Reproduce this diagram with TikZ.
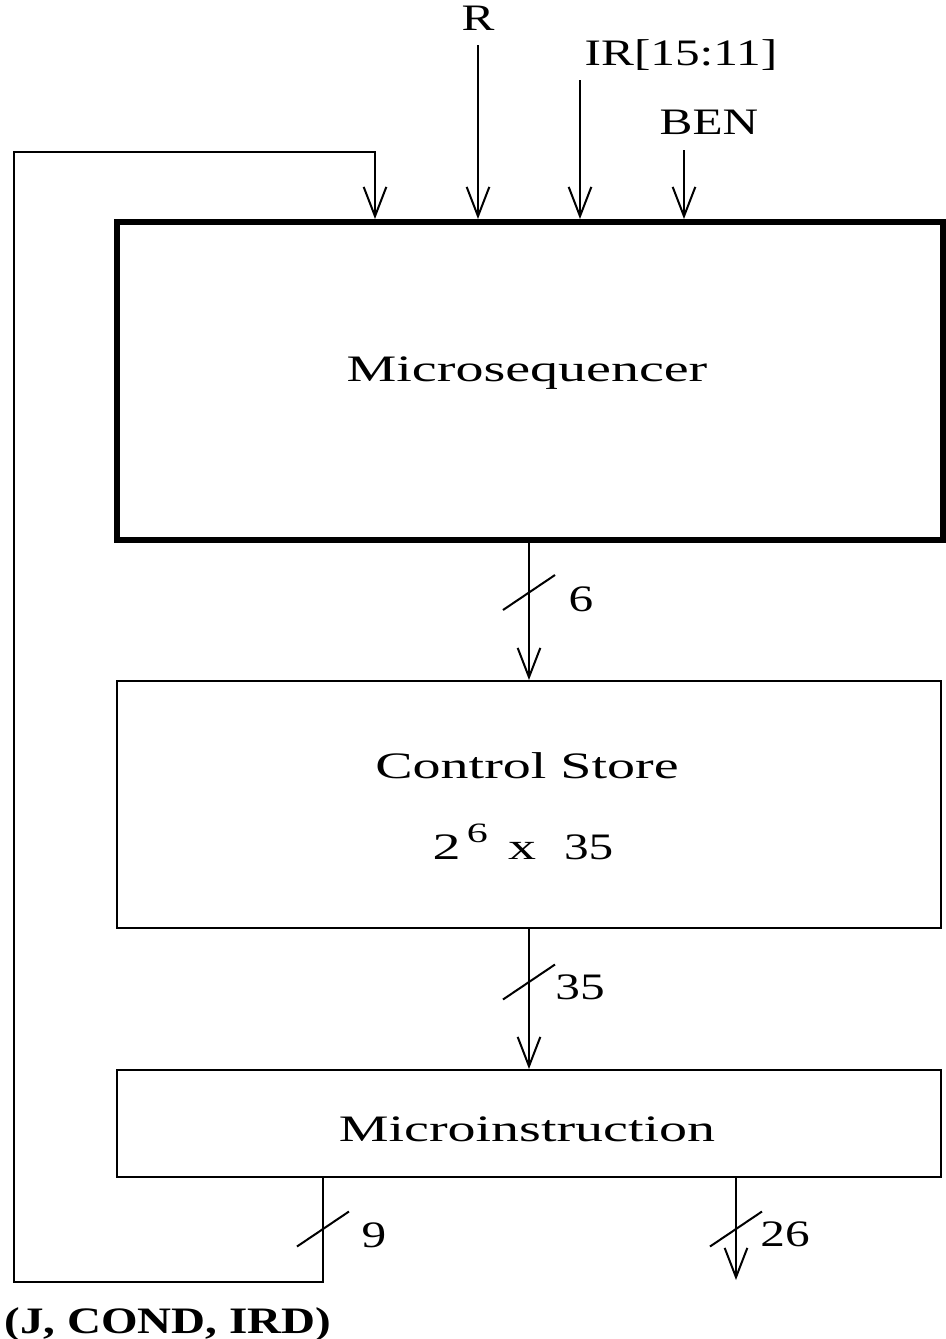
\documentclass[tikz,border=0pt]{standalone}
\usepackage{fontspec}
\setmainfont{Liberation Serif}[FakeStretch=1.5]
\newfontfamily\capfont{Liberation Serif}[FakeStretch=1.32]
\newfontfamily\fbfont{Liberation Serif}[FakeStretch=1.26]
\usetikzlibrary{arrows.meta}
\newcommand\busmark[1]{\draw ([shift={(-26,17.5)}]#1) -- ([shift={(26,-17.5)}]#1);}

\begin{document}
\begin{tikzpicture}[x=0.75pt, y=-0.75pt, line width=1.5pt,
    >={Straight Barb[length=22pt,width=17pt]},
    box/.style={draw, line width=1.5pt, inner sep=0pt},
    txt/.style={font=\fontsize{28}{32}\selectfont, inner sep=0pt, anchor=base},
    num/.style={txt, font=\capfont\fontsize{28}{32}\selectfont}]
    \useasboundingbox (0,0) rectangle (946,1339);
    % Nodes
    \node[box, line width=4.5pt, minimum width=619.5pt, minimum height=238.5pt] (msq) at (530,381) {};
    \node[box, minimum width=618pt, minimum height=185.25pt] (cs) at (529,804.5) {};
    \node[box, minimum width=618pt, minimum height=80.25pt] (mi) at (529,1123.5) {};
    \node[txt] (msqtxt) at (527,381) {Microsequencer};
    \node[txt] (cstxt) at (527,778) {Control Store};
    \node[txt] (cssize) at (523,859) {2\,\raisebox{0.45em}{\fontsize{21}{21}\selectfont 6}\, x~~\capfont 35};
    \node[txt] (mitxt) at (527,1141) {Microinstruction};
    \node[num] (rlbl) at (478,30) {R};
    \node[num] (irlbl) at (681,65) {IR[15:11]};
    \node[num] (benlbl) at (709,134) {BEN};
    \node[num, font=\fbfont\bfseries\fontsize{28}{32}\selectfont] (fblbl) at (168,1333) {(J, COND, IRD)};
    \node[num] (w6) at (581,611) {6};
    \node[num] (w35) at (580,999) {35};
    \node[num] (w9) at (374,1247) {9};
    \node[num] (w26) at (785,1246) {26};
    \coordinate (rin) at (478,45);
    \coordinate (irin) at (580,80);
    \coordinate (benin) at (684,150);
    \coordinate (fb1) at (323,1282);
    \coordinate (fb2) at (14,1282);
    \coordinate (fb3) at (14,152);
    \coordinate (fb4) at (375,152);
    \coordinate (out) at (736,1280);
    \coordinate (s6) at (529,592.5);
    \coordinate (s35) at (529,982);
    \coordinate (s9) at (323,1229);
    \coordinate (s26) at (736,1229);
    % Arrows
    \draw[->] (rin) -- (rin |- msq.north);
    \draw[->] (irin) -- (irin |- msq.north);
    \draw[->] (benin) -- (benin |- msq.north);
    \draw[->] (cs.north |- msq.south) -- (cs.north);
    \draw[->] (cs.south) -- (mi.north);
    \draw[->] (fb1 |- mi.south) -- (fb1) -- (fb2) -- (fb3) -- (fb4) -- (fb4 |- msq.north);
    \draw[->] (out |- mi.south) -- (out);
    % Bus widths
    \busmark{s6}
    \busmark{s35}
    \busmark{s9}
    \busmark{s26}
\end{tikzpicture}
\end{document}
